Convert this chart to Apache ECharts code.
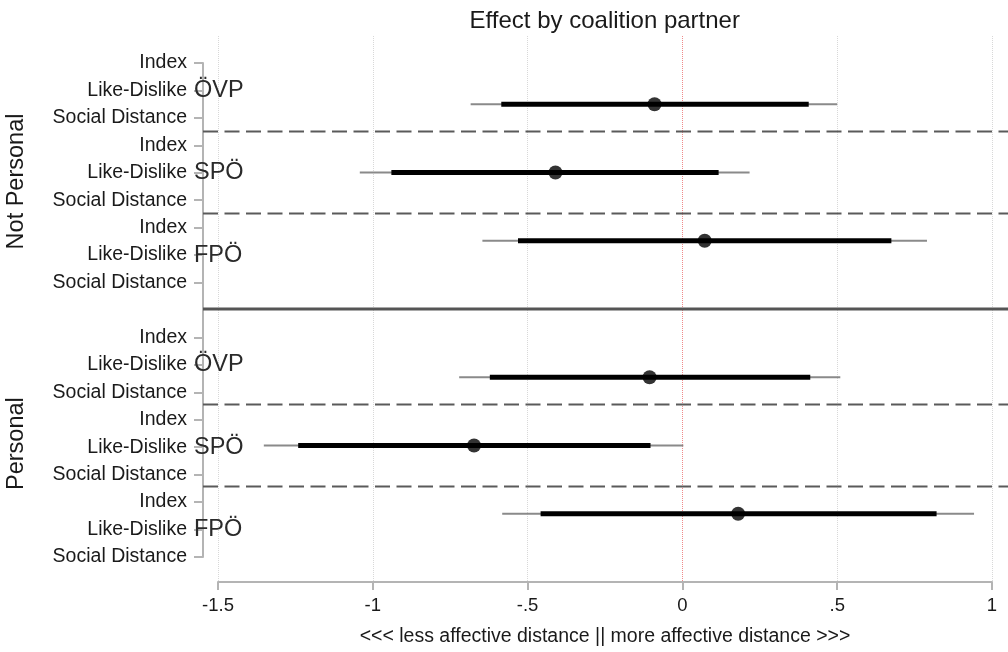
<!DOCTYPE html>
<html>
<head>
<meta charset="utf-8">
<title>Effect by coalition partner</title>
<script src="https://cdn.jsdelivr.net/npm/echarts@6/dist/echarts.min.js"></script>
<style>
  html, body { margin: 0; padding: 0; background: #fff; }
  #chart { width: 1008px; height: 652px; }
</style>
</head>
<body>
<div id="chart"></div>
<script>
// rows on the y scale (1 row = one label line, 10 = panel break)
const rowPos = [1, 2, 3, 4, 5, 6, 7, 8, 9, 11, 12, 13, 14, 15, 16, 17, 18, 19];
const rowLabels = [
  'Index', 'Like-Dislike', 'Social Distance',
  'Index', 'Like-Dislike', 'Social Distance',
  'Index', 'Like-Dislike', 'Social Distance',
  'Index', 'Like-Dislike', 'Social Distance',
  'Index', 'Like-Dislike', 'Social Distance',
  'Index', 'Like-Dislike', 'Social Distance'
];
const partyPos = [2, 5, 8, 12, 15, 18];
const partyLabels = ['ÖVP', 'SPÖ', 'FPÖ', 'ÖVP', 'SPÖ', 'FPÖ'];
const panelLabels = ['Not Personal', 'Personal'];
const panelCenter = [5.3, 14.85];

// separators between groups
const dashedAt = [3.5, 6.5, 13.5, 16.5];
const solidAt = [10];

// estimates
const estRow = [2.5, 5, 7.5, 12.5, 15, 17.5];
const estimate = [-0.09, -0.41, 0.072, -0.106, -0.673, 0.18];
const ci95Low = [-0.684, -1.042, -0.646, -0.721, -1.352, -0.582];
const ci95High = [0.5, 0.217, 0.79, 0.51, 0.003, 0.942];
const ci90Low = [-0.585, -0.94, -0.531, -0.622, -1.241, -0.458];
const ci90High = [0.408, 0.117, 0.675, 0.413, -0.103, 0.821];

const xTicks = [-1.5, -1, -0.5, 0, 0.5, 1];
const xTickLabels = ['-1.5', '-1', '-.5', '0', '.5', '1'];

const textColor = '#1a1a1a';
const axisGray = '#b4b4b4';
const font = 'Liberation Sans, Arial, sans-serif';

const chart = echarts.init(document.getElementById('chart'));

const barData = estRow.map((r, i) => [r, ci95Low[i], ci95High[i], ci90Low[i], ci90High[i]]);
const dotData = estRow.map((r, i) => [estimate[i], r]);
const sepData = dashedAt.map(v => [v, 0]).concat(solidAt.map(v => [v, 1]));

const option = {
  animation: false,
  textStyle: { fontFamily: font },
  title: {
    text: 'Effect by coalition partner',
    left: '59.5%',
    textAlign: 'center',
    top: 4,
    textStyle: { fontFamily: font, fontSize: 24, fontWeight: 'normal', color: textColor }
  },
  graphic: panelLabels.map((t, i) => ({
    type: 'text',
    id: 'panel' + i,
    x: 17,
    y: 36 + panelCenter[i] * 27.45,
    rotation: Math.PI / 2,
    style: {
      text: t,
      font: '23.5px ' + font,
      fill: textColor,
      textAlign: 'center',
      textVerticalAlign: 'middle'
    }
  })),
  grid: [
    { left: 218, right: 16, top: 36, bottom: 67 },
    { left: 203, width: 1, top: 63, bottom: 95 }
  ],
  xAxis: [
    {
      gridIndex: 0,
      type: 'value',
      min: -1.5,
      max: 1,
      interval: 0.5,
      axisLine: { show: true, onZero: false, lineStyle: { color: axisGray, width: 2 } },
      axisTick: { show: true, length: 8, lineStyle: { color: axisGray, width: 2 } },
      axisLabel: {
        color: textColor,
        fontSize: 18.5,
        margin: 14,
        formatter: v => xTickLabels[xTicks.findIndex(t => Math.abs(t - v) < 1e-9)]
      },
      splitLine: {
        show: true,
        lineStyle: {
          type: 'dotted',
          width: 1,
          color: xTicks.map(t => (t === 0 ? '#f08a8a' : '#d8d8d8'))
        }
      },
      name: '<<< less affective distance || more affective distance >>>',
      nameLocation: 'middle',
      nameGap: 45,
      nameTextStyle: { color: textColor, fontSize: 19.5, fontFamily: font }
    },
    { gridIndex: 1, type: 'value', show: false }
  ],
  yAxis: [
    { gridIndex: 0, type: 'value', min: 0, max: 20, inverse: true, show: false },
    {
      gridIndex: 1,
      type: 'value',
      min: 1,
      max: 19,
      inverse: true,
      axisLine: { show: true, lineStyle: { color: axisGray, width: 2 } },
      axisTick: { show: true, length: 9, customValues: rowPos, lineStyle: { color: axisGray, width: 2 } },
      axisLabel: {
        customValues: rowPos,
        margin: 16,
        color: textColor,
        fontSize: 19.5,
        formatter: v => rowLabels[rowPos.indexOf(v)]
      },
      splitLine: { show: false }
    },
    {
      gridIndex: 1,
      type: 'value',
      min: 1,
      max: 19,
      inverse: true,
      position: 'left',
      axisLine: { show: false },
      axisTick: { show: false },
      axisLabel: {
        customValues: partyPos,
        align: 'left',
        margin: 9,
        color: '#2a2a2a',
        fontSize: 23.5,
        formatter: v => partyLabels[partyPos.indexOf(v)]
      },
      splitLine: { show: false }
    }
  ],
  series: [
    {
      type: 'custom',
      name: 'separators',
      xAxisIndex: 0,
      yAxisIndex: 0,
      data: sepData,
      clip: false,
      silent: true,
      renderItem: (params, api) => {
        const y = api.coord([0, api.value(0)])[1];
        const solid = api.value(1) === 1;
        return {
          type: 'line',
          shape: { x1: params.coordSys.x - 15, y1: y, x2: api.getWidth(), y2: y },
          style: solid
            ? { stroke: '#555', lineWidth: 3 }
            : { stroke: '#5a5a5a', lineWidth: 2, lineDash: [15, 6.5] }
        };
      }
    },
    {
      type: 'custom',
      name: 'ci',
      xAxisIndex: 0,
      yAxisIndex: 0,
      data: barData,
      clip: false,
      renderItem: (params, api) => {
        const r = api.value(0);
        const a = api.coord([api.value(1), r]);
        const b = api.coord([api.value(2), r]);
        const c = api.coord([api.value(3), r]);
        const d = api.coord([api.value(4), r]);
        return {
          type: 'group',
          children: [
            { type: 'line', shape: { x1: a[0], y1: a[1], x2: b[0], y2: b[1] }, style: { stroke: '#8a8a8a', lineWidth: 2 } },
            { type: 'line', shape: { x1: c[0], y1: c[1], x2: d[0], y2: d[1] }, style: { stroke: '#000', lineWidth: 5 } }
          ]
        };
      }
    },
    {
      type: 'scatter',
      name: 'estimate',
      xAxisIndex: 0,
      yAxisIndex: 0,
      data: dotData,
      symbol: 'circle',
      symbolSize: 14,
      itemStyle: { color: '#000' }
    }
  ]
};

chart.setOption(option);
</script>
</body>
</html>
